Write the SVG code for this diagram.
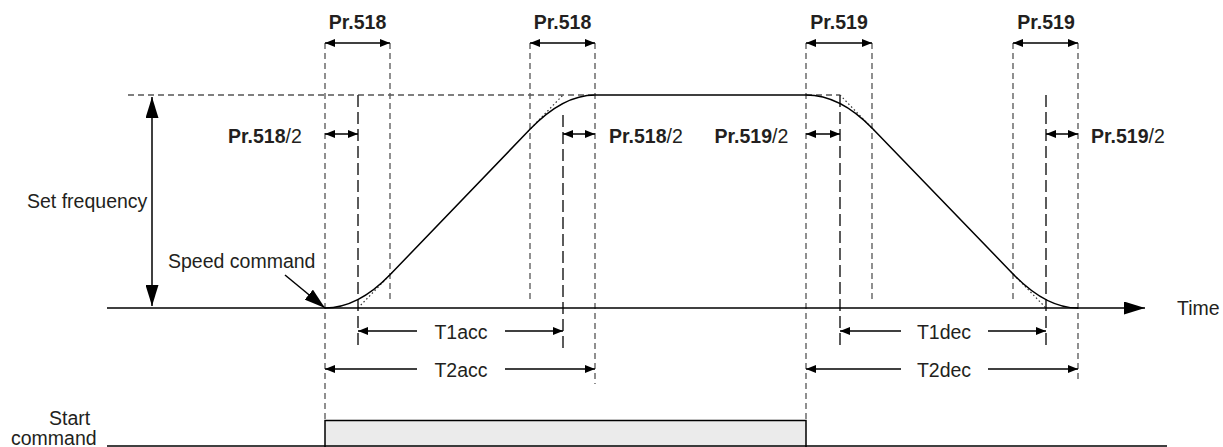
<svg xmlns="http://www.w3.org/2000/svg" width="1223" height="447" viewBox="0 0 1223 447">
<style>
text{font-family:"Liberation Sans",Arial,sans-serif;font-size:19.5px;fill:#231f20}
.b{font-weight:bold}
.ln{stroke:#000;stroke-width:1.5;fill:none}
.sd{stroke:#555;stroke-width:1.3;stroke-dasharray:6 4;fill:none}
.ld{stroke:#333;stroke-width:1.6;stroke-dasharray:12 5;fill:none}
.dt{stroke:#333;stroke-width:1.2;stroke-dasharray:1.5 2.5;fill:none}
.ar{stroke:#000;stroke-width:1.5;fill:none;marker-end:url(#a);marker-start:url(#a)}
.ae{stroke:#000;stroke-width:1.5;fill:none;marker-end:url(#a)}
</style>
<defs>
<marker id="a" viewBox="0 0 10 8" refX="10" refY="4" markerWidth="10" markerHeight="8" markerUnits="userSpaceOnUse" orient="auto-start-reverse"><path d="M0,0 L10,4 L0,8 z" fill="#000"/></marker>
<marker id="big" viewBox="0 0 21 13" refX="21" refY="6.5" markerWidth="21" markerHeight="13" markerUnits="userSpaceOnUse" orient="auto-start-reverse"><path d="M0,0 L21,6.5 L0,13 z" fill="#000"/></marker>
</defs>

<g id="guides">
<path class="sd" d="M128,95 H595 M806,95 H840"/>
<path class="sd" d="M325,43 V420 M390,43 V303 M530,43 V303 M595,43 V384 M806,43 V420 M872,43 V303 M1013,43 V303 M1078,43 V379"/>
<path class="ld" d="M358,95 V348 M563,115 V348 M840,95 V348 M1046,95 V348"/>
<path class="dt" d="M358,308 L392,272.7 M528,131.4 L563,95 M840,95 L874,130.2 M1011,271.8 L1046,308"/>
</g>

<g id="axes">
<path class="ln" d="M107,308 H1145" marker-end="url(#big)"/>
<path class="ln" d="M152,97 V306" marker-start="url(#big)" marker-end="url(#big)"/>
<path class="ln" d="M285,275 L325,308" marker-end="url(#big)"/>
</g>

<g id="curve">
<path class="ln" d="M325,308 Q358,308 390,274.8 L530,129.3 Q563,95 595,95 H806 Q840,95 872,128.1 L1013,273.9 Q1046,308 1078,308"/>
</g>

<g id="start-command">
<rect x="325" y="420" width="481" height="30" fill="#ebebeb"/>
<path class="ln" d="M325,447 V420.5 H806 V447"/>
<path class="ln" d="M107,446 H1167"/>
<text x="49" y="425">Start</text>
<text x="11" y="445">command</text>
</g>

<g id="connectors">
<path class="ar" d="M325,43 H390"/>
<path class="ar" d="M530,43 H595"/>
<path class="ar" d="M806,43 H872"/>
<path class="ar" d="M1013,43 H1078"/>
<path class="ar" d="M325,134 H358"/>
<path class="ar" d="M563,134 H595"/>
<path class="ar" d="M806,134 H840"/>
<path class="ar" d="M1046,134 H1078"/>
<path class="ae" d="M417,331 H358"/>
<path class="ae" d="M505,331 H563"/>
<path class="ae" d="M417,369 H325"/>
<path class="ae" d="M505,369 H595"/>
<path class="ae" d="M901,331 H840"/>
<path class="ae" d="M988,331 H1046"/>
<path class="ae" d="M901,369 H806"/>
<path class="ae" d="M988,369 H1078"/>
</g>

<g id="labels">
<text class="b" x="357.5" y="29" text-anchor="middle">Pr.518</text>
<text class="b" x="562.5" y="29" text-anchor="middle">Pr.518</text>
<text class="b" x="839" y="29" text-anchor="middle">Pr.519</text>
<text class="b" x="1046" y="29" text-anchor="middle">Pr.519</text>
<text x="228" y="142.5"><tspan class="b">Pr.518</tspan>/2</text>
<text x="609" y="142.5"><tspan class="b">Pr.518</tspan>/2</text>
<text x="714.5" y="142.5"><tspan class="b">Pr.519</tspan>/2</text>
<text x="1091" y="142.5"><tspan class="b">Pr.519</tspan>/2</text>
<text x="27" y="208">Set frequency</text>
<text x="168" y="268">Speed command</text>
<text x="1177" y="315">Time</text>
<text x="461" y="339" text-anchor="middle">T1acc</text>
<text x="461" y="377" text-anchor="middle">T2acc</text>
<text x="944" y="339" text-anchor="middle">T1dec</text>
<text x="944" y="377" text-anchor="middle">T2dec</text>
</g>
</svg>
